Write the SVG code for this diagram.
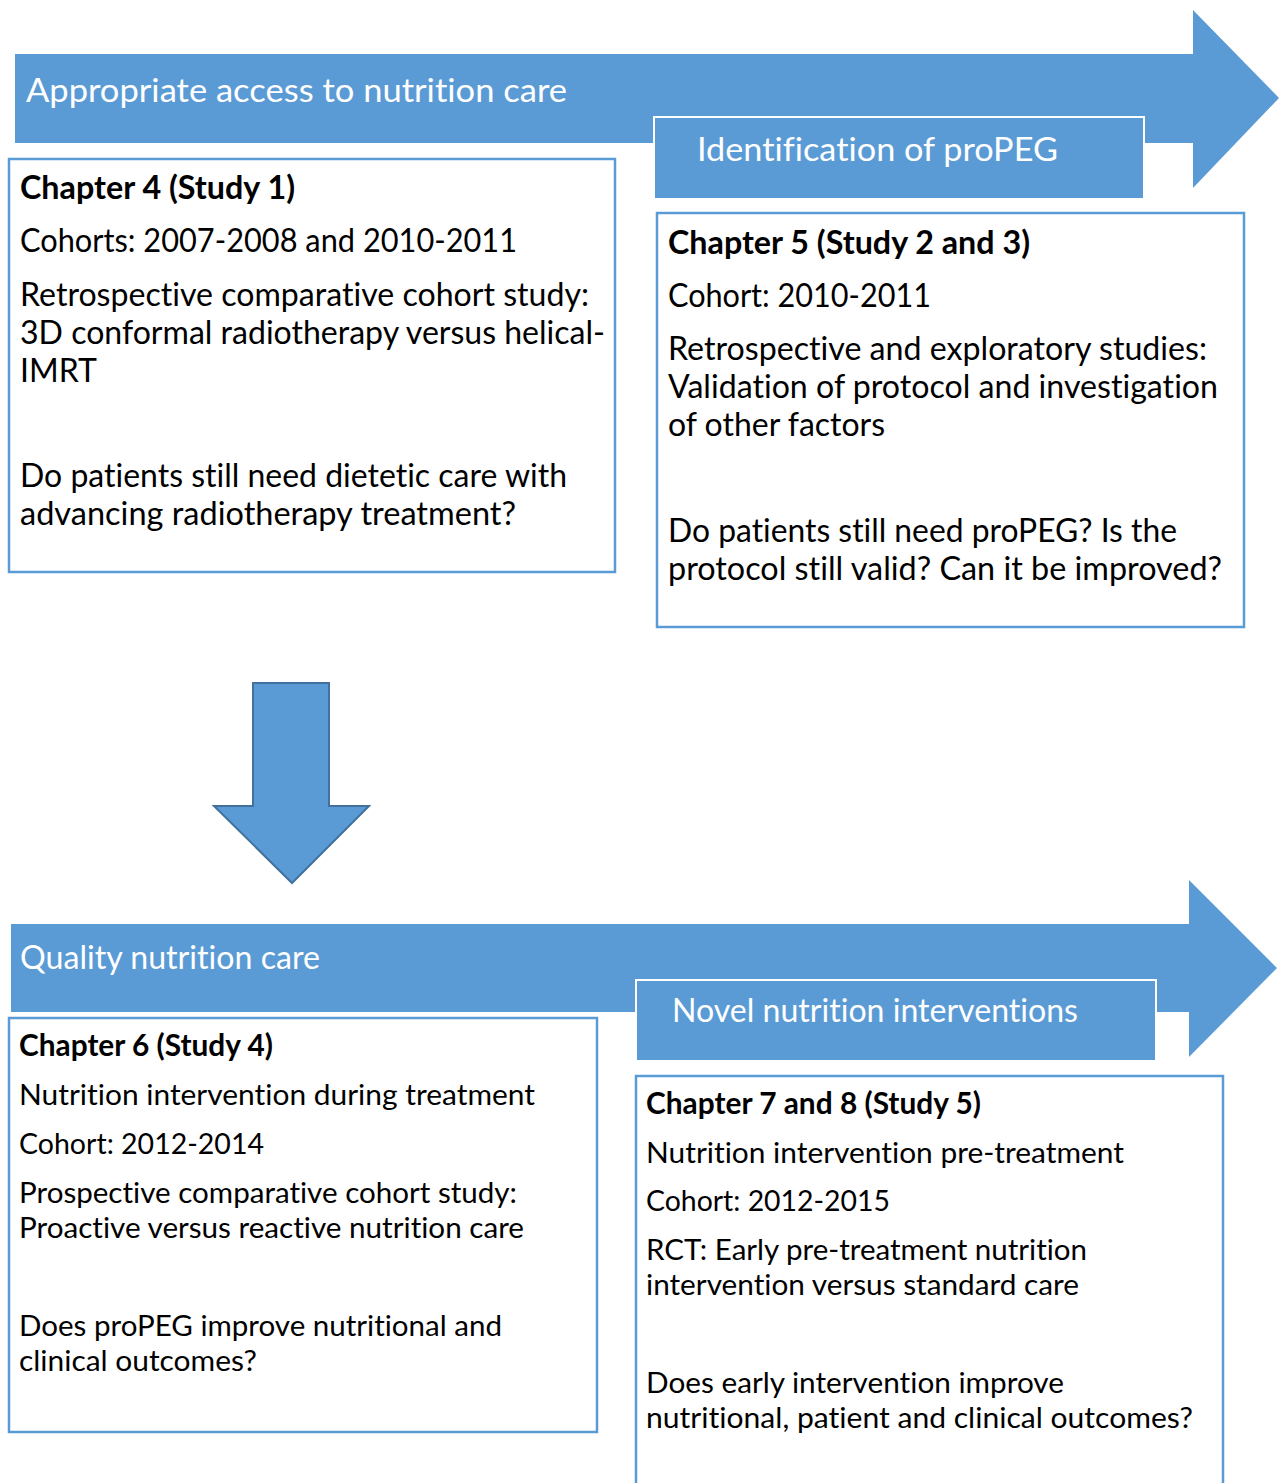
<svg xmlns="http://www.w3.org/2000/svg" width="1279" height="1483" viewBox="0 0 1279 1483">
  <style>
    .arrow { fill: #5b9bd5; }
    .banner { fill: #5b9bd5; stroke: #ffffff; stroke-width: 2; }
    .box { fill: #ffffff; stroke: #5b9bd5; stroke-width: 2.5; }
    .down { fill: #5b9bd5; stroke: #41719c; stroke-width: 2; }
    text { font-family: Lato, "Open Sans", "Liberation Sans", sans-serif; font-variant-ligatures: none; }
    .head { fill: #ffffff; font-size: 33px; }
    .big { fill: #000000; font-size: 32px; }
    .small { fill: #000000; font-size: 29.5px; }
    .bold { font-weight: bold; }
  </style>
  <rect width="1279" height="1483" fill="#ffffff"/>

  <!-- Top phase arrow -->
  <g id="phase-access">
    <polygon class="arrow" points="15,54 1193,54 1193,10 1279,98 1193,188 1193,143 15,143"/>
    <text class="head" x="26" y="102" textLength="541" lengthAdjust="spacingAndGlyphs">Appropriate access to nutrition care</text>
  </g>
  <g id="banner-propeg">
    <rect class="banner" x="654" y="117" width="490" height="82"/>
    <text class="head" x="697" y="161" textLength="361" lengthAdjust="spacingAndGlyphs">Identification of proPEG</text>
  </g>

  <!-- Chapter 4 -->
  <g id="chapter4">
    <rect class="box" x="9" y="159" width="606" height="413"/>
    <text class="big bold" x="20" y="199" textLength="275" lengthAdjust="spacingAndGlyphs">Chapter 4 (Study 1)</text>
    <text class="big" x="20" y="252" textLength="497" lengthAdjust="spacingAndGlyphs">Cohorts: 2007-2008 and 2010-2011</text>
    <text class="big" x="20" y="306" textLength="569" lengthAdjust="spacingAndGlyphs">Retrospective comparative cohort study:</text>
    <text class="big" x="20" y="344" textLength="585" lengthAdjust="spacingAndGlyphs">3D conformal radiotherapy versus helical-</text>
    <text class="big" x="20" y="382">IMRT</text>
    <text class="big" x="20" y="487" textLength="547" lengthAdjust="spacingAndGlyphs">Do patients still need dietetic care with</text>
    <text class="big" x="20" y="525" textLength="496" lengthAdjust="spacingAndGlyphs">advancing radiotherapy treatment?</text>
  </g>

  <!-- Chapter 5 -->
  <g id="chapter5">
    <rect class="box" x="657" y="213" width="587" height="414"/>
    <text class="big bold" x="668" y="254" textLength="362" lengthAdjust="spacingAndGlyphs">Chapter 5 (Study 2 and 3)</text>
    <text class="big" x="668" y="307" textLength="263" lengthAdjust="spacingAndGlyphs">Cohort: 2010-2011</text>
    <text class="big" x="668" y="360" textLength="539" lengthAdjust="spacingAndGlyphs">Retrospective and exploratory studies:</text>
    <text class="big" x="668" y="398" textLength="550" lengthAdjust="spacingAndGlyphs">Validation of protocol and investigation</text>
    <text class="big" x="668" y="436" textLength="217" lengthAdjust="spacingAndGlyphs">of other factors</text>
    <text class="big" x="668" y="542" textLength="509" lengthAdjust="spacingAndGlyphs">Do patients still need proPEG? Is the</text>
    <text class="big" x="668" y="580" textLength="554" lengthAdjust="spacingAndGlyphs">protocol still valid? Can it be improved?</text>
  </g>

  <!-- Transition between the two phases -->
  <g id="connectors">
    <polygon class="down" points="253,683 329,683 329,806 369,806 292,883 214,806 253,806"/>
  </g>

  <!-- Bottom phase arrow -->
  <g id="phase-quality">
    <polygon class="arrow" points="11,924 1189,924 1189,880 1277,968 1189,1057 1189,1012 11,1012"/>
    <text class="head" x="20" y="969" textLength="300" lengthAdjust="spacingAndGlyphs">Quality nutrition care</text>
  </g>
  <g id="banner-novel">
    <rect class="banner" x="636" y="980" width="520" height="81"/>
    <text class="head" x="672" y="1022" textLength="406" lengthAdjust="spacingAndGlyphs">Novel nutrition interventions</text>
  </g>

  <!-- Chapter 6 -->
  <g id="chapter6">
    <rect class="box" x="9" y="1018" width="588" height="414"/>
    <text class="small bold" x="19" y="1056" textLength="254" lengthAdjust="spacingAndGlyphs">Chapter 6 (Study 4)</text>
    <text class="small" x="19" y="1105" textLength="516" lengthAdjust="spacingAndGlyphs">Nutrition intervention during treatment</text>
    <text class="small" x="19" y="1154" textLength="245" lengthAdjust="spacingAndGlyphs">Cohort: 2012-2014</text>
    <text class="small" x="19" y="1203" textLength="498" lengthAdjust="spacingAndGlyphs">Prospective comparative cohort study:</text>
    <text class="small" x="19" y="1238" textLength="505" lengthAdjust="spacingAndGlyphs">Proactive versus reactive nutrition care</text>
    <text class="small" x="19" y="1336" textLength="483" lengthAdjust="spacingAndGlyphs">Does proPEG improve nutritional and</text>
    <text class="small" x="19" y="1371" textLength="238" lengthAdjust="spacingAndGlyphs">clinical outcomes?</text>
  </g>

  <!-- Chapter 7 and 8 -->
  <g id="chapter7-8">
    <rect class="box" x="636" y="1076" width="587" height="420"/>
    <text class="small bold" x="646" y="1114" textLength="335" lengthAdjust="spacingAndGlyphs">Chapter 7 and 8 (Study 5)</text>
    <text class="small" x="646" y="1163" textLength="478" lengthAdjust="spacingAndGlyphs">Nutrition intervention pre-treatment</text>
    <text class="small" x="646" y="1211" textLength="244" lengthAdjust="spacingAndGlyphs">Cohort: 2012-2015</text>
    <text class="small" x="646" y="1260" textLength="441" lengthAdjust="spacingAndGlyphs">RCT: Early pre-treatment nutrition</text>
    <text class="small" x="646" y="1295" textLength="433" lengthAdjust="spacingAndGlyphs">intervention versus standard care</text>
    <text class="small" x="646" y="1393" textLength="418" lengthAdjust="spacingAndGlyphs">Does early intervention improve</text>
    <text class="small" x="646" y="1428" textLength="547" lengthAdjust="spacingAndGlyphs">nutritional, patient and clinical outcomes?</text>
  </g>
</svg>
